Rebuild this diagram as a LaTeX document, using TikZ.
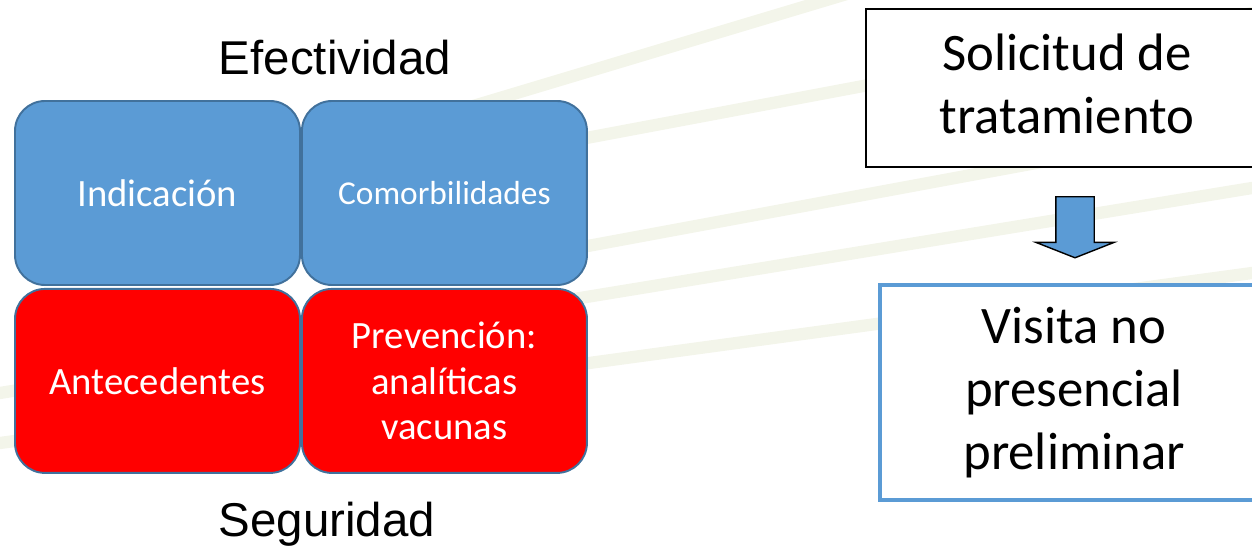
\documentclass[tikz,border=0pt]{standalone}
\usepackage{fontspec}
\setmainfont{Carlito}
\newfontfamily\arialfont{Liberation Sans}
\usetikzlibrary{shapes.arrows, positioning}

\definecolor{cellblue}{RGB}{91,155,213}
\definecolor{cellborder}{RGB}{65,113,156}
\definecolor{cellred}{RGB}{255,0,0}
\definecolor{streak}{RGB}{222,226,196}

\begin{document}
\begin{tikzpicture}[
    cell/.style={rectangle, rounded corners=0.6cm, minimum width=5.7cm, minimum height=3.68cm, inner sep=0pt, align=center, draw=cellborder, line width=1.1pt, text=white},
    bluecell/.style={cell, fill=cellblue, font=\fontsize{22}{26}\selectfont},
    redcell/.style={cell, fill=cellred, font=\fontsize{22}{26}\selectfont},
    axis_label/.style={font=\arialfont\fontsize{27}{32}\selectfont},
    stepbox/.style={rectangle, align=center, inner sep=0pt, fill=white, font=\fontsize{30}{36}\selectfont},
    flow_arrow/.style={single arrow, shape border rotate=270, draw=black, fill=cellblue, line width=0.8pt, inner xsep=0.37cm, inner ysep=0pt, minimum height=1.22cm, single arrow head extend=0.4cm, single arrow tip angle=137}
]
\useasboundingbox (0,0) rectangle (25.04,11.06);

% --- Background streaks (faint) ---
\foreach \xa/\ya/\xb/\yb in {9/8.8/17/11.2, 8/7.6/25.04/10.8, 11/6.0/25.04/8.6, 0/3.2/25.04/7.3, 0/2.2/25.04/5.6}
    \draw[streak, line width=7pt, opacity=0.35, line cap=round] (\xa,\ya) -- (\xb,\yb);

% --- Left: 2x2 grid ---
\node (indic) [bluecell] at (3.15,7.2) {Indicación};
\node (comorb) [bluecell, right=0pt of indic, font=\fontsize{19}{23}\selectfont] {Comorbilidades};
\node (antec) [redcell, below=0.04cm of indic] {Antecedentes};
\node (prev) [redcell, right=0pt of antec] {Prevención:\\analíticas\\vacunas};

\node (efect) [axis_label] at (6.7,9.9) {Efectividad};
\node (segur) [axis_label] at (6.54,0.58) {Seguridad};

% --- Right: steps ---
\node (solicitud) [stepbox, draw=black, line width=1.1pt, minimum width=8.04cm, minimum height=3.16cm, text depth=0.18cm] at (21.34,9.3) {Solicitud de\\tratamiento};
\node (visita) [stepbox, draw=cellblue, line width=2.8pt, minimum width=7.76cm, minimum height=4.3cm] at (21.48,3.21) {Visita no\\presencial\\preliminar};

\node (down) [flow_arrow] at (21.5,6.59) {};

\end{tikzpicture}
\end{document}
